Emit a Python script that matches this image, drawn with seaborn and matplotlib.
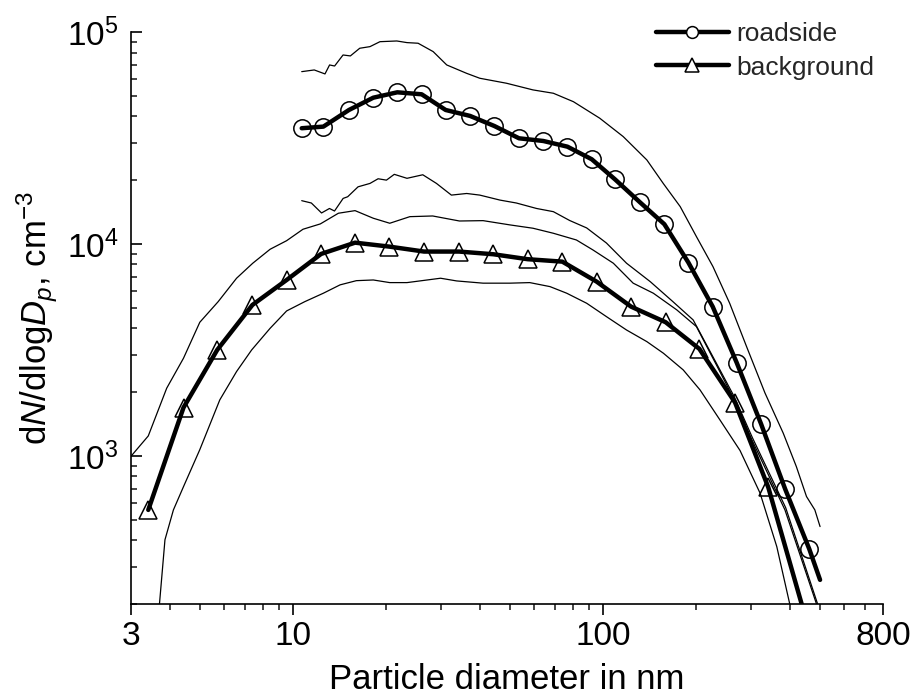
import numpy as np
import pandas as pd
import matplotlib
matplotlib.use("Agg")
import matplotlib.pyplot as plt
import seaborn as sns
from matplotlib.lines import Line2D
from matplotlib.ticker import FixedLocator, FixedFormatter, NullFormatter

# ---------------- data ----------------
road_mean_x = [10.66, 12.52, 15.14, 18.14, 21.68, 25.98, 31.05, 37.22, 44.58, 53.55, 64.14,
               76.7, 91.9, 109.2, 131.5, 157.6, 188.4, 225.7, 269.7, 323.2, 386.4, 462.6, 501]
road_mean_y = [35150, 35770, 42860, 48980, 51930, 50820, 42860, 40180, 36010, 31510, 30600,
               28770, 25090, 20180, 15720, 12390, 8170, 5060, 2754, 1416, 699, 363, 260]

road_up_x = [10.66, 11.7, 12.67, 13.11, 13.61, 14.49, 15.3, 16.4, 17.7, 19.06, 21.6, 23.3, 25.3,
             28.3, 31.3, 36.3, 40.0, 48.8, 59.4, 69.1, 80.2, 97.5, 116.1, 138.4, 156.3, 177.3,
             200.2, 226.1, 256, 290.2, 332.8, 381.1, 420, 453, 482, 501]
road_up_y = [65000, 66200, 63400, 69900, 69100, 77900, 77100, 83800, 85300, 90000, 90700, 89100,
             88500, 80800, 69900, 63800, 60500, 57300, 53300, 51400, 46900, 39200, 32100, 24900,
             19300, 15000, 10800, 7820, 5250, 3280, 1980, 1280, 891, 643, 556, 464]

road_lo_x = [10.66, 11.45, 12.35, 13.1, 13.6, 14.5, 15.0, 16.2, 17.7, 18.8, 20.0, 21.2, 23.3,
             26.2, 29.0, 32.4, 36.3, 40.0, 46.5, 52.5, 61.0, 69.1, 78.0, 88.5, 102.5, 119,
             141.9, 168, 195.2, 230, 265, 303, 388, 492, 505]
road_lo_y = [16000, 15600, 14000, 14700, 14300, 16400, 16700, 18600, 19300, 20300, 20000, 21300,
             20400, 21200, 19300, 17000, 17300, 17000, 16100, 15600, 14700, 14200, 12900, 11900,
             10100, 8110, 6640, 5340, 4380, 2800, 1900, 1220, 570, 200, 180]

bg_mean_x = [3.41, 4.43, 5.69, 7.39, 9.53, 12.31, 15.84, 20.43, 26.44, 34.29, 44.26, 57.1,
             73.87, 95.3, 123.1, 159.1, 204.4, 266.5, 341, 437, 448]
bg_mean_y = [556, 1690, 3162, 5154, 6762, 8970, 10140, 9714, 9205, 9205, 8940, 8472,
             8250, 6640, 5060, 4273, 3198, 1785, 711, 200, 180]

bg_up_x = [2.98, 3.41, 3.91, 4.43, 5.0, 5.73, 6.57, 7.41, 8.43, 9.53, 10.76, 12.24, 14.0, 15.84,
           18.14, 20.5, 23.8, 28.2, 34.4, 41.0, 50.0, 59.4, 69.1, 82.0, 92.7, 107.9, 125,
           145.2, 172.8, 200, 231.6, 263, 302, 386, 488, 500]
bg_up_y = [985, 1242, 2086, 2890, 4270, 5340, 6890, 8110, 9440, 10360, 11730, 12430, 13960, 14360,
           13220, 12520, 13450, 13550, 12830, 12880, 12300, 11860, 11230, 10440, 9370, 8110, 6530,
           5855, 4886, 4074, 2700, 1880, 1190, 556, 200, 180]

bg_lo_x = [3.70, 3.86, 4.11, 4.43, 5.0, 5.8, 6.57, 7.35, 8.43, 9.53, 10.9, 12.52, 14.17, 16.0,
           18.14, 20.5, 23.3, 29.9, 33.7, 41.0, 50.0, 58.0, 67.4, 76.3, 88.5, 102.5, 119,
           138.4, 156.5, 181.3, 205.4, 238, 276.5, 320.9, 363.3, 400, 410]
bg_lo_y = [195, 402, 556, 716, 1070, 1837, 2500, 3162, 4000, 4830, 5340, 5855, 6410, 6710,
           6760, 6570, 6570, 6890, 6690, 6530, 6530, 6570, 6290, 5855, 5250, 4540, 3926,
           3460, 3050, 2545, 2048, 1480, 1060, 667, 373, 200, 180]

series_labels = ["roadside", "background"]
x_major = [3, 10, 100, 800]
x_major_labels = ["3", "10", "100", "800"]
y_major = [1e3, 1e4, 1e5]
y_major_labels = [r"$10^{3}$", r"$10^{4}$", r"$10^{5}$"]
x_label = "Particle diameter in nm"
y_label = r"d$\mathit{N}$/dlog$\mathit{D}_\mathit{p}$, cm$^{-3}$"

# ---------------- style ----------------
sns.set_theme(style="ticks")
plt.rcParams["font.family"] = ["Liberation Sans", "DejaVu Sans"]
plt.rcParams["mathtext.fontset"] = "custom"
plt.rcParams["mathtext.rm"] = "Liberation Sans"
plt.rcParams["mathtext.it"] = "Liberation Sans:italic"
plt.rcParams["mathtext.bf"] = "Liberation Sans:bold"
plt.rcParams["axes.unicode_minus"] = True

fig = plt.figure(figsize=(9.15, 7.0), dpi=100)
ax = fig.add_axes([0.1432, 0.1371, 0.8219, 0.8172])
ax.set_xscale("log")
ax.set_yscale("log")

thin = dict(color="black", linewidth=0.9, estimator=None, sort=False, legend=False)
for xs, ys in [(road_up_x, road_up_y), (road_lo_x, road_lo_y),
               (bg_up_x, bg_up_y), (bg_lo_x, bg_lo_y)]:
    sns.lineplot(x=np.array(xs), y=np.array(ys), ax=ax, **thin)

sns.lineplot(x=np.array(road_mean_x), y=np.array(road_mean_y), ax=ax, color="black",
             linewidth=3.2, estimator=None, sort=False, legend=False,
             marker="o", markersize=12.5, markerfacecolor="none", markeredgecolor="black",
             markeredgewidth=1.1, markevery=list(range(len(road_mean_x) - 1)))
sns.lineplot(x=np.array(bg_mean_x), y=np.array(bg_mean_y), ax=ax, color="black",
             linewidth=3.2, estimator=None, sort=False, legend=False,
             marker="^", markersize=13, markerfacecolor="none", markeredgecolor="black",
             markeredgewidth=1.1, markevery=list(range(len(bg_mean_x) - 2)))

ax.set_xlim(3, 800)
ax.set_ylim(200, 1e5)

# ticks
x_minor = [v for v in list(range(4, 10)) + list(range(20, 100, 10)) + list(range(200, 800, 100))]
y_minor = [m * 10 ** e for e in (2, 3, 4) for m in range(2, 10) if m * 10 ** e >= 200]
ax.xaxis.set_major_locator(FixedLocator(x_major))
ax.xaxis.set_major_formatter(FixedFormatter(x_major_labels))
ax.xaxis.set_minor_locator(FixedLocator(x_minor))
ax.xaxis.set_minor_formatter(NullFormatter())
ax.yaxis.set_major_locator(FixedLocator(y_major))
ax.yaxis.set_major_formatter(FixedFormatter(y_major_labels))
ax.yaxis.set_minor_locator(FixedLocator(y_minor))
ax.yaxis.set_minor_formatter(NullFormatter())

ax.tick_params(axis="x", which="major", direction="out", length=8, width=1.2,
               labelsize=24, pad=4, colors="black")
ax.tick_params(axis="x", which="minor", direction="out", length=4.5, width=1.2)
ax.tick_params(axis="y", which="major", direction="in", length=8, width=1.2,
               labelsize=24, pad=9, colors="black")
ax.tick_params(axis="y", which="minor", direction="in", length=4.5, width=1.2)

for s in ["top", "right"]:
    ax.spines[s].set_visible(False)
for s in ["left", "bottom"]:
    ax.spines[s].set_linewidth(1.2)
    ax.spines[s].set_color("black")

ax.set_xlabel(x_label, fontsize=25, labelpad=8, color="black")
ax.set_ylabel(y_label, fontsize=25, labelpad=5, color="black")

handles = [
    Line2D([], [], color="black", lw=3.2, marker="o", ms=8.5, mfc="white", mec="black", mew=1.1),
    Line2D([], [], color="black", lw=3.2, marker="^", ms=9.5, mfc="white", mec="black", mew=1.1),
]
fig.legend(handles, series_labels, loc="upper left", bbox_to_anchor=(0.717, 0.968),
           bbox_transform=fig.transFigure, frameon=False, fontsize=19,
           handlelength=2.75, handletextpad=0.3, labelspacing=0.35, borderpad=0,
           borderaxespad=0)

fig.savefig("out.png", dpi=100)
